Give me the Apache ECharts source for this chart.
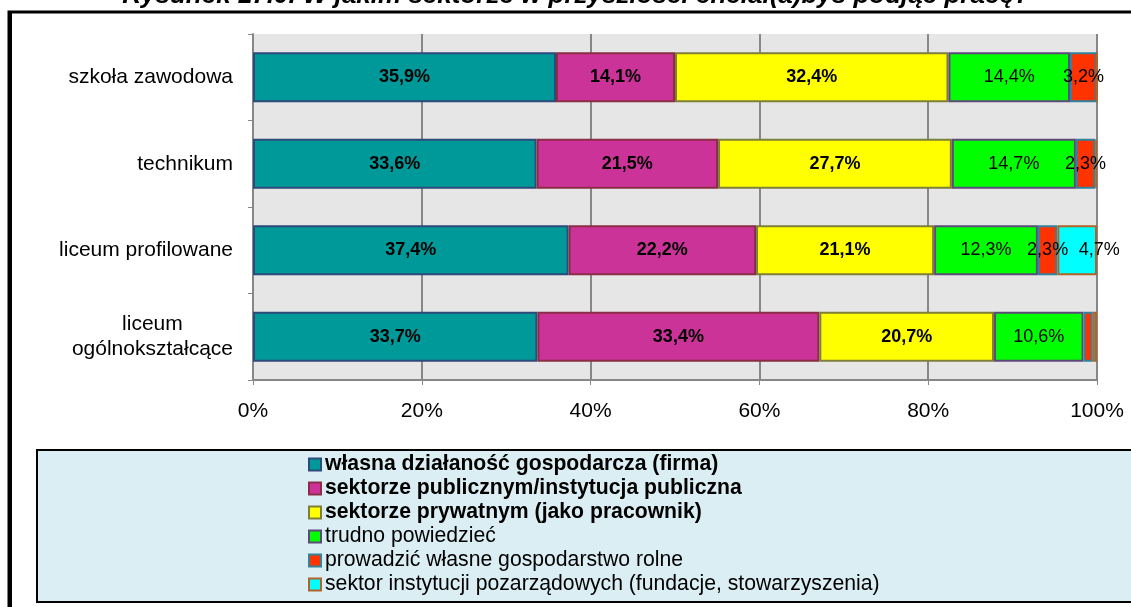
<!DOCTYPE html>
<html>
<head>
<meta charset="utf-8">
<style>
  html, body { margin: 0; padding: 0; background: #ffffff; }
  #chart { width: 1131px; height: 607px; }
</style>
<script src="https://cdn.jsdelivr.net/npm/echarts@6/dist/echarts.min.js"></script>
</head>
<body>
<div id="chart"></div>
<script>
// School types (top to bottom)
const categories = ['szkoła zawodowa', 'technikum', 'liceum profilowane', 'liceum\nogólnokształcące'];

// Share of answers per sector, in percent
const firma       = [35.9, 33.6, 37.4, 33.7];
const publiczny   = [14.1, 21.5, 22.2, 33.4];
const prywatny    = [32.4, 27.7, 21.1, 20.7];
const trudno      = [14.4, 14.7, 12.3, 10.6];
const rolne       = [3.2, 2.3, 2.3, 1.1];
const pozarzadowe = [0.0, 0.2, 4.7, 0.5];

const xTicks = ['0%', '20%', '40%', '60%', '80%', '100%'];

const seriesNames = [
  'własna działaność gospodarcza (firma)',
  'sektorze publicznym/instytucja publiczna',
  'sektorze prywatnym (jako pracownik)',
  'trudno powiedzieć',
  'prowadzić własne gospodarstwo rolne',
  'sektor instytucji pozarządowych (fundacje, stowarzyszenia)'
];
const seriesData = [firma, publiczny, prywatny, trudno, rolne, pozarzadowe];
const fills   = ['#009999', '#CC3399', '#FFFF00', '#00FF00', '#FF3300', '#00FFFF'];
const borders = ['#2E4A7A', '#8B2E45', '#7F7F3A', '#5E4A7A', '#31849B', '#B0642A'];
const boldSeries = [true, true, true, false, false, false];

const FONT = '"Liberation Sans", Arial, sans-serif';

const chart = echarts.init(document.getElementById('chart'), null, { renderer: 'canvas' });

const series = seriesNames.map((name, i) => ({
  name: name,
  type: 'bar',
  stack: 'total',
  barWidth: '58%',
  // the last segment of the narrow right-hand stack pushes its label outwards
  data: seriesData[i].map((v, j) =>
    (i === 5 && j === 2) ? { value: v, label: { offset: [22, 0] } } : v),
  itemStyle: { color: fills[i], borderColor: borders[i], borderWidth: 2 },
  label: {
    show: true,
    position: 'inside',
    color: '#000',
    fontFamily: FONT,
    fontSize: 18,
    fontWeight: boldSeries[i] ? 'bold' : 'normal',
    formatter: p => p.value >= 2 ? p.value.toFixed(1).replace('.', ',') + '%' : ''
  },
  emphasis: { disabled: true }
}));

chart.setOption({
  animation: false,
  textStyle: { fontFamily: FONT },
  graphic: [
    // outer frame (top and left edges)
    { type: 'rect', shape: { x: 9, y: 12, width: 1200, height: 700 }, style: { fill: 'none', stroke: '#000', lineWidth: 3 }, z: -10 },
    { type: 'rect', shape: { x: 8, y: 12, width: 4, height: 600 }, style: { fill: '#000' }, z: -10 },
    // legend box
    { type: 'rect', shape: { x: 37, y: 450, width: 1120, height: 152 }, style: { fill: '#DBEEF4', stroke: '#000', lineWidth: 2 }, z: -5 },
    // figure caption
    { type: 'text', x: 576, y: -4, style: {
        text: 'Rysunek 17.0. W jakim sektorze w przyszłości chciał(a)byś podjąć pracę?',
        font: 'italic bold 26px "Liberation Sans", Arial, sans-serif',
        fill: '#000', textAlign: 'center', textVerticalAlign: 'middle' } }
  ],
  grid: {
    left: 253, right: 34, top: 34, bottom: 227,
    show: true, backgroundColor: '#E6E6E6', borderWidth: 0
  },
  legend: {
    orient: 'vertical',
    left: 303, top: 449,
    height: 150,
    itemWidth: 12, itemHeight: 12,
    itemGap: 3,
    icon: 'rect',
    selectedMode: false,
    data: seriesNames.map((n, i) => ({
      name: n,
      textStyle: { fontWeight: boldSeries[i] ? 'bold' : 'normal' }
    })),
    textStyle: { fontFamily: FONT, fontSize: 21.2, color: '#000', padding: [0, 0, 0, -1] }
  },
  xAxis: {
    type: 'value',
    min: 0, max: 100, interval: 20,
    axisLine: { show: true, lineStyle: { color: '#878787', width: 2 } },
    axisTick: { show: true, length: 5, lineStyle: { color: '#878787' } },
    splitLine: { show: true, lineStyle: { color: '#878787', width: 2 } },
    axisLabel: {
      color: '#000', fontSize: 21, fontFamily: FONT, margin: 21,
      formatter: v => xTicks[Math.round(v / 20)]
    }
  },
  yAxis: {
    type: 'category',
    inverse: true,
    data: categories,
    axisLine: { show: true, lineStyle: { color: '#878787', width: 2 } },
    axisTick: { show: true, length: 5, lineStyle: { color: '#878787' } },
    axisLabel: {
      color: '#000', fontSize: 21, fontFamily: FONT, margin: 20, lineHeight: 25,
      formatter: v => v.indexOf('\n') >= 0
        ? v.split('\n').map(s => '{c|' + s + '}').join('\n')
        : v,
      rich: { c: { align: 'center', fontSize: 21, fontFamily: FONT, color: '#000', lineHeight: 25 } }
    }
  },
  series: series
});
</script>
</body>
</html>
